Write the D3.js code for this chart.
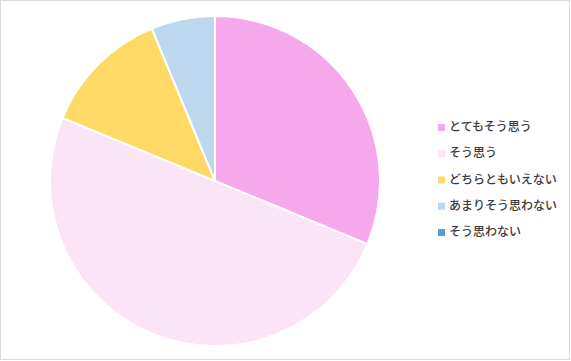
<!DOCTYPE html>
<html>
<head>
<meta charset="utf-8">
<script src="https://cdn.jsdelivr.net/npm/d3@7"></script>
<style>
  body { margin: 0; background: #fff; }
  svg { display: block; }
</style>
</head>
<body>
<div id="chart"></div>
<script>
// answers and counts
var categories = ["とてもそう思う", "そう思う", "どちらともいえない", "あまりそう思わない", "そう思わない"];
var counts = [10, 16, 4, 2, 0];
var colors = ["#F5A9EC", "#FCE4F7", "#FFD966", "#BDD7EE", "#5B9BD5"];

var width = 571, height = 361;

var svg = d3.select("#chart")
  .append("svg")
    .attr("width", width)
    .attr("height", height);

// outer frame
svg.append("rect")
    .attr("x", 0.5)
    .attr("y", 0.5)
    .attr("width", width - 2)
    .attr("height", height - 2)
    .style("fill", "#fff")
    .style("stroke", "#d9d9d9");

var data = categories.map(function(c, i){ return { name: c, value: counts[i] }; });

var pie = d3.pie()
    .sort(null)
    .value(function(d){ return d.value; });

var arc = d3.arc()
    .innerRadius(0)
    .outerRadius(165);

var g = svg.append("g")
    .attr("transform", "translate(215,181)");

g.selectAll("path")
  .data(pie(data))
  .enter()
  .append("path")
    .attr("d", arc)
    .style("fill", function(d, i){ return colors[i]; })
    .style("stroke", "#fff")
    .style("stroke-width", 2)
    .style("stroke-linejoin", "round");

// legend
var y = d3.scalePoint()
    .domain(categories)
    .range([127, 232]);

var legend = svg.append("g")
  .selectAll("g")
  .data(categories)
  .enter()
  .append("g")
    .attr("transform", function(d){ return "translate(438," + y(d) + ")"; });

legend.append("rect")
    .attr("x", 0)
    .attr("y", -3)
    .attr("width", 7)
    .attr("height", 7)
    .style("fill", function(d, i){ return colors[i]; });

legend.append("text")
    .attr("x", 11)
    .attr("y", 0)
    .attr("dy", "0.35em")
    .style("font-family", "'Noto Sans CJK JP', sans-serif")
    .style("font-size", "12px")
    .style("font-weight", 500)
    .style("fill", "#3a3a3a")
    .text(function(d){ return d; });
</script>
</body>
</html>
